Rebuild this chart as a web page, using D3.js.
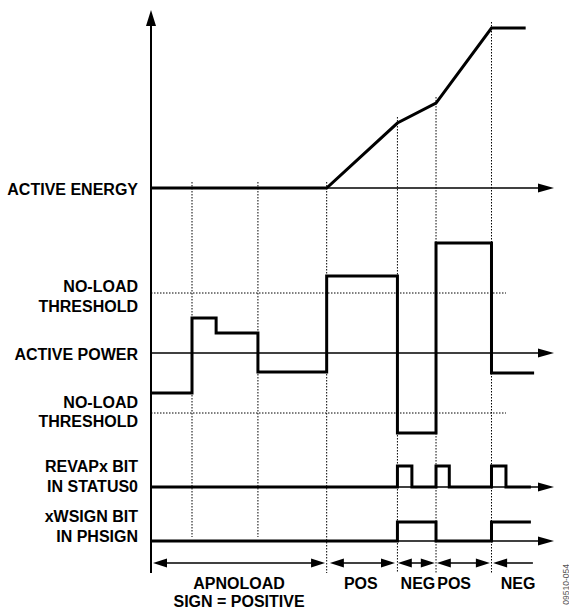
<!DOCTYPE html>
<html>
<head>
<meta charset="utf-8">
<script src="https://cdn.jsdelivr.net/npm/d3@7"></script>
<style>
  html, body { margin: 0; padding: 0; background: #fff; }
  svg { display: block; }
  text { font-family: "Liberation Sans", Arial, Helvetica, sans-serif; font-weight: bold; fill: #000; }
</style>
</head>
<body>
<div id="chart"></div>
<script>
// ---------------- DATA (time in arbitrary units 0..100) ----------------
const eventTimes = [10.2, 26.6, 43.7, 61.3, 70.9, 84.7];
const eventLongGuide = [false, false, true, true, true, true];

const energyTimes  = [0, 43.7, 61.3, 70.9, 84.7, 93.2];
const energyValues = [0, 0, 40.6, 53.1, 100, 100];

const powerTimes  = [0, 10.2, 16.2, 26.6, 43.7, 61.3, 70.9, 84.7];
const powerValues = [-40, 35, 20, -19, 77, -80, 110, -20];
const powerEnd = 95.3;
const noLoadThreshold = 60;
const thresholdEnd = 88.3;

const revapTimes  = [0, 61.3, 64.9, 70.9, 74.2, 84.7, 88.3];
const revapValues = [0, 1, 0, 1, 0, 1, 0];
const revapEnd = 94.5;

const signTimes  = [0, 61.3, 70.9, 84.7];
const signValues = [0, 1, 0, 1];
const signEnd = 94.5;

const spanStarts = [0.5, 44.5, 61.4, 71.1, 85.1];
const spanEnds   = [43.3, 60.7, 70.6, 84.3, 95.0];
const spanRightHead = [true, true, true, true, false];
const spanLabelTimes = [21.9, 52.2, 66.4, 75.4, 91.3];
const spanLabels = [["APNOLOAD", "SIGN = POSITIVE"], ["POS"], ["NEG"], ["POS"], ["NEG"]];

const rowLabels = {
  energy: ["ACTIVE ENERGY"],
  upperThreshold: ["NO-LOAD", "THRESHOLD"],
  power: ["ACTIVE POWER"],
  lowerThreshold: ["NO-LOAD", "THRESHOLD"],
  revap: ["REVAPx BIT", "IN STATUS0"],
  sign: ["xWSIGN BIT", "IN PHSIGN"]
};
const figureId = "09510-054";

// ---------------- LAYOUT ----------------
const W = 569, H = 613;
const svg = d3.select("#chart").append("svg").attr("width", W).attr("height", H);
svg.append("rect").attr("width", W).attr("height", H).attr("fill", "#fff");

const x = d3.scaleLinear().domain([0, 100]).range([151, 553]);
const yEnergy = d3.scaleLinear().domain([0, 100]).range([188, 28]);
const yPower  = d3.scaleLinear().domain([-100, 100]).range([453, 253]);
const yRevap  = d3.scaleLinear().domain([0, 1]).range([487, 466]);
const ySign   = d3.scaleLinear().domain([0, 1]).range([541, 522]);

const axisX = x(0);
const arrowTipX = 554;
const axisBottom = 573;
const guideShortBottom = 537;
const FS = 16;

// ---------------- GUIDES (dotted) ----------------
const guides = svg.append("g").attr("stroke", "#000").attr("stroke-width", 1).attr("stroke-dasharray", "1.5,1.5");
const energyAt = d3.scaleLinear().domain(energyTimes).range(energyValues).clamp(true);
eventTimes.forEach((t, i) => {
  const top = yEnergy(energyAt(t)) - 6;
  guides.append("line")
    .attr("x1", x(t)).attr("x2", x(t))
    .attr("y1", top).attr("y2", eventLongGuide[i] ? axisBottom : guideShortBottom);
});
[noLoadThreshold, -noLoadThreshold].forEach(v => {
  guides.append("line")
    .attr("x1", axisX).attr("x2", x(thresholdEnd))
    .attr("y1", yPower(v)).attr("y2", yPower(v));
});

// ---------------- AXES ----------------
function hArrowAxis(y) {
  svg.append("line").attr("x1", axisX).attr("x2", arrowTipX - 12).attr("y1", y).attr("y2", y)
    .attr("stroke", "#000").attr("stroke-width", 1.5);
  svg.append("path")
    .attr("d", `M${arrowTipX},${y} L${arrowTipX - 16},${y - 4.5} L${arrowTipX - 16},${y + 4.5} Z`)
    .attr("fill", "#000");
}
hArrowAxis(yEnergy(0));
hArrowAxis(yPower(0));
hArrowAxis(yRevap(0));
hArrowAxis(ySign(0));

// vertical axis
svg.append("line").attr("x1", axisX).attr("x2", axisX).attr("y1", axisBottom).attr("y2", 20)
  .attr("stroke", "#000").attr("stroke-width", 2);
svg.append("path")
  .attr("d", `M${axisX},10 L${axisX - 5},26 L${axisX + 5},26 Z`).attr("fill", "#000");

// ---------------- TRACES ----------------
const traceStyle = sel => sel.attr("fill", "none").attr("stroke", "#000").attr("stroke-width", 3)
  .attr("stroke-linejoin", "miter").attr("stroke-linecap", "butt");

const energyLine = d3.line().x(d => x(d[0])).y(d => yEnergy(d[1]));
svg.append("path").datum(d3.zip(energyTimes, energyValues)).attr("d", energyLine).call(traceStyle);

function stepPath(times, values, end, yScale) {
  const pts = d3.zip(times, values);
  pts.push([end, values[values.length - 1]]);
  return d3.line().x(d => x(d[0])).y(d => yScale(d[1])).curve(d3.curveStepAfter)(pts);
}
svg.append("path").attr("d", stepPath(powerTimes, powerValues, powerEnd, yPower)).call(traceStyle);
svg.append("path").attr("d", stepPath(revapTimes, revapValues, revapEnd, yRevap)).call(traceStyle);
svg.append("path").attr("d", stepPath(signTimes, signValues, signEnd, ySign)).call(traceStyle);

// ---------------- SPAN ARROWS ----------------
const spanY = 563;
spanStarts.forEach((s, i) => {
  const x1 = x(s), x2 = x(spanEnds[i]);
  const g = svg.append("g");
  g.append("line").attr("x1", x1 + 6).attr("x2", spanRightHead[i] ? x2 - 6 : x2)
    .attr("y1", spanY).attr("y2", spanY).attr("stroke", "#000").attr("stroke-width", 1.5);
  g.append("path").attr("d", `M${x1},${spanY} L${x1 + 14},${spanY - 4.5} L${x1 + 14},${spanY + 4.5} Z`).attr("fill", "#000");
  if (spanRightHead[i]) {
    g.append("path").attr("d", `M${x2},${spanY} L${x2 - 14},${spanY - 4.5} L${x2 - 14},${spanY + 4.5} Z`).attr("fill", "#000");
  }
  spanLabels[i].forEach((txt, j) => {
    svg.append("text").attr("x", x(spanLabelTimes[i])).attr("y", 589 + j * 18)
      .attr("text-anchor", "middle").attr("font-size", FS).text(txt);
  });
});

// ---------------- ROW LABELS ----------------
const labelX = 138;
function rowLabel(lines, centerY) {
  const n = lines.length, gap = 19.5;
  lines.forEach((txt, j) => {
    const cy = centerY + (j - (n - 1) / 2) * gap;
    svg.append("text").attr("x", labelX).attr("y", cy + 5.8)
      .attr("text-anchor", "end").attr("font-size", FS).text(txt);
  });
}
rowLabel(rowLabels.energy, yEnergy(0) + 1);
rowLabel(rowLabels.upperThreshold, yPower(noLoadThreshold) + 3);
rowLabel(rowLabels.power, yPower(0) + 1.5);
rowLabel(rowLabels.lowerThreshold, yPower(-noLoadThreshold) - 1.5);
rowLabel(rowLabels.revap, yRevap(0) - 11);
rowLabel(rowLabels.sign, ySign(0) - 15);

// ---------------- FIGURE ID ----------------
svg.append("text")
  .attr("transform", "translate(568.5,564) rotate(-90)")
  .attr("text-anchor", "end")
  .attr("font-size", 8.5).style("font-weight", "normal")
  .style("fill", "#555")
  .text(figureId);
</script>
</body>
</html>
